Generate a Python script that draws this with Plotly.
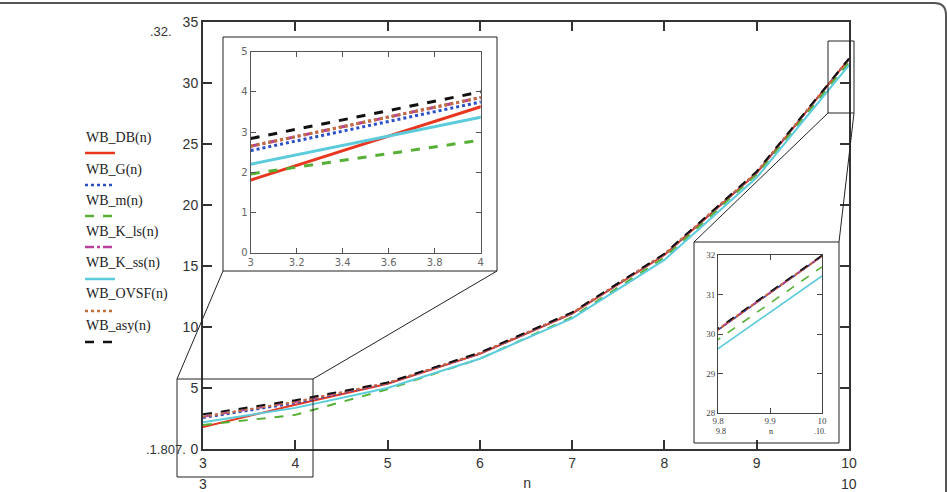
import plotly.graph_objects as go

# ---------------- data ----------------
n = [3, 4, 5, 6, 7, 8, 9, 10]
wb_db = [1.807, 3.63, 5.35, 7.80, 11.10, 15.90, 22.62, 31.97]
wb_g = [2.54, 3.75, 5.38, 7.82, 11.12, 15.95, 22.65, 31.97]
wb_m = [1.96, 2.80, 4.90, 7.40, 10.80, 15.70, 22.50, 31.70]
wb_k_ls = [2.65, 3.86, 5.42, 7.86, 11.16, 15.98, 22.70, 31.98]
wb_k_ss = [2.20, 3.37, 5.00, 7.40, 10.70, 15.50, 22.25, 31.47]
wb_ovsf = [2.65, 3.86, 5.42, 7.86, 11.16, 15.98, 22.70, 31.98]
wb_asy = [2.84, 4.00, 5.45, 7.90, 11.20, 16.00, 22.75, 31.99]

names = ["WB_DB(n)", "WB_G(n)", "WB_m(n)", "WB_K_ls(n)", "WB_K_ss(n)", "WB_OVSF(n)", "WB_asy(n)"]
series = [wb_db, wb_g, wb_m, wb_k_ls, wb_k_ss, wb_ovsf, wb_asy]
colors = ["#e8361f", "#2b4fc4", "#55b035", "#b8409a", "#5ccbdc", "#c0703c", "#111111"]
dashes = ["solid", "dot", "dash", "dashdot", "solid", "dot", "dash"]

y_ticks_main = [0, 5, 10, 15, 20, 25, 30, 35]
x_ticks_main = [3, 4, 5, 6, 7, 8, 9, 10]
x_ticks_in1 = [3, 3.2, 3.4, 3.6, 3.8, 4]
y_ticks_in1 = [0, 1, 2, 3, 4, 5]
x_ticks_in2 = [9.8, 9.9, 10]
y_ticks_in2 = [28, 29, 30, 31, 32]

# ---------------- layout geometry (pixels) ----------------
W, H = 947, 492
L, R, T, B = 203, 98, 22, 43
PW, PH = W - L - R, H - T - B


def px(x):
    return (x - L) / PW


def py(y):
    return (H - B - y) / PH


fig = go.Figure()

widths = {"x": 2, "x2": 3, "x3": 1.6}
for xa, ya in [("x", "y"), ("x2", "y2"), ("x3", "y3")]:
    for nm, s, c, d in zip(names, series, colors, dashes):
        fig.add_trace(go.Scatter(
            x=n, y=s, mode="lines", name=nm, showlegend=False,
            xaxis=xa, yaxis=ya,
            line=dict(color=c, dash=d, width=widths[xa]),
            hoverinfo="skip",
        ))

axis_common = dict(showgrid=False, zeroline=False, showline=True, mirror="ticks",
                   ticks="inside")

fig.update_layout(
    width=W, height=H,
    margin=dict(l=L, r=R, t=T, b=B, pad=0),
    paper_bgcolor="white", plot_bgcolor="white",
    showlegend=False,
    xaxis=dict(range=[3, 10], tickvals=x_ticks_main, linecolor="#333", linewidth=2,
               ticklen=9, tickwidth=2, tickcolor="#333",
               tickfont=dict(family="Liberation Sans", size=14, color="#333"), **axis_common),
    yaxis=dict(range=[0, 35], tickvals=y_ticks_main, linecolor="#333", linewidth=2,
               ticklen=9, tickwidth=2, tickcolor="#333",
               tickfont=dict(family="Liberation Sans", size=14, color="#333"), **axis_common),
    xaxis2=dict(domain=[px(250.7), px(480.7)], anchor="y2", range=[3, 4], tickvals=x_ticks_in1,
                ticktext=["3", "3.2", "3.4", "3.6", "3.8", "4"],
                linecolor="#555", linewidth=1, ticklen=5, tickcolor="#555",
                tickfont=dict(family="DejaVu Sans", size=10, color="#666"), **axis_common),
    yaxis2=dict(domain=[py(252.7), py(51.7)], anchor="x2", range=[0, 5], tickvals=y_ticks_in1,
                linecolor="#555", linewidth=1, ticklen=5, tickcolor="#555",
                tickfont=dict(family="DejaVu Sans", size=10, color="#666"), **axis_common),
    xaxis3=dict(domain=[px(718), px(822)], anchor="y3", range=[9.8, 10], tickvals=x_ticks_in2,
                ticktext=["9.8", "9.9", "10"], ticklabelstandoff=-1,
                linecolor="#444", linewidth=1, ticklen=5, tickcolor="#444",
                tickfont=dict(family="Liberation Serif", size=9, color="#444"), **axis_common),
    yaxis3=dict(domain=[py(413), py(255)], anchor="x3", range=[28, 32], tickvals=y_ticks_in2,
                linecolor="#444", linewidth=1, ticklen=5, tickcolor="#444",
                tickfont=dict(family="Liberation Serif", size=9, color="#444"), **axis_common),
)

shapes = []


def rect(x0, y0, x1, y1, color="#222", width=1):
    shapes.append(dict(type="rect", xref="paper", yref="paper", x0=px(x0), x1=px(x1),
                       y0=py(y1), y1=py(y0), line=dict(color=color, width=width),
                       fillcolor="rgba(0,0,0,0)", layer="above"))


def seg(x0, y0, x1, y1, color="#222", width=1, dash="solid"):
    shapes.append(dict(type="line", xref="paper", yref="paper", x0=px(x0), x1=px(x1),
                       y0=py(y0), y1=py(y1), line=dict(color=color, width=width, dash=dash),
                       layer="above"))


# inset frames
rect(223, 37, 497, 271)
rect(694, 242, 839, 443)
# zoom boxes on main plot
rect(177, 379, 313, 477)
rect(828, 41, 854, 113)
# connectors
seg(177, 379, 223, 271)
seg(313, 379, 497, 271)
seg(828, 113, 694, 242)
seg(854, 113, 839, 242)

# outer rounded frame
r = 12
path = (f"M {px(-2)},{py(3)} L {px(946 - r)},{py(3)} "
        f"Q {px(946)},{py(3)} {px(946)},{py(3 + r)} L {px(946)},{py(494)}")
shapes.append(dict(type="path", xref="paper", yref="paper", path=path,
                   line=dict(color="#555", width=2), layer="above"))

# legend samples
leg_text_y = [138, 170, 201, 232, 263, 294, 326]
leg_line_y = [153, 185, 216, 247, 279, 311, 342]
annotations = []
for nm, c, d, ty, ly in zip(names, colors, dashes, leg_text_y, leg_line_y):
    seg(85, ly, 115, ly, color=c, width=2.5, dash=d)
    annotations.append(dict(xref="paper", yref="paper", x=px(84), y=py(ty), text=nm,
                            showarrow=False, xanchor="left", yanchor="middle",
                            font=dict(family="Liberation Serif", size=14, color="#222")))


def label(x, y, text, size=14, family="Liberation Sans", color="#333", xanchor="center"):
    annotations.append(dict(xref="paper", yref="paper", x=px(x), y=py(y), text=text,
                            showarrow=False, xanchor=xanchor, yanchor="middle",
                            font=dict(family=family, size=size, color=color)))


label(161, 31, ".32.", size=13)
label(166, 449, ".1.807.", size=13)
label(203, 484, "3")
label(527, 484, "n", family="Liberation Mono")
label(849, 484, "10")
# inset 2 extra labels
label(721, 431, "9.8", size=8, family="Liberation Serif", color="#333")
label(771, 431, "n", size=8, family="Liberation Serif", color="#333")
label(820, 431, ".10.", size=8, family="Liberation Serif", color="#333")

fig.update_layout(shapes=shapes, annotations=annotations)

fig.write_html("out.html")
